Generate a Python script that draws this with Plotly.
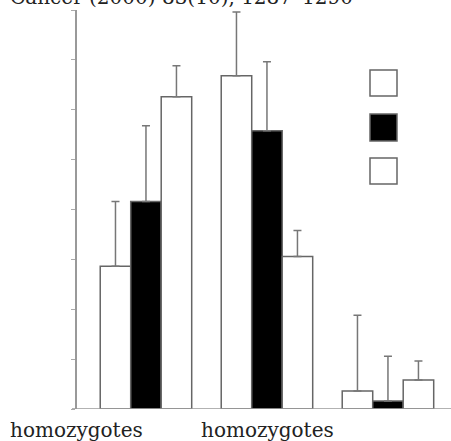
import plotly.graph_objects as go

groups = ["G1", "G2", "G3"]
series_names = ["Series A", "Series B", "Series C"]
series_fill = ["white", "black", "white"]
values = [
    [28.6, 66.8, 3.6],
    [41.6, 55.8, 1.6],
    [62.6, 30.6, 5.8],
]
errors = [
    [13.0, 12.8, 15.2],
    [15.2, 13.8, 9.0],
    [6.2, 5.2, 3.8],
]
x_labels = ["homozygotes", "homozygotes"]
x_label_px = [76, 267]
title_text = "Cancer (2000) 83(10), 1287\u20131290"
y_ticks = [0, 10, 20, 30, 40, 50, 60, 70, 80]

W, H = 451, 441
ml, mr, mt, mb = 77, 0, 10, 32
pw, ph = W - ml - mr, H - mt - mb

fig = go.Figure()
for name, fill, vals, errs in zip(series_names, series_fill, values, errors):
    fig.add_trace(go.Bar(
        x=groups, y=vals, name=name,
        marker=dict(color=fill, line=dict(color="#666666", width=1.5)),
        error_y=dict(type="data", array=errs, arrayminus=[0] * len(errs),
                     symmetric=False, color="#777777", thickness=1.5, width=4),
        showlegend=False,
    ))

def px_x(p):
    return (p - ml) / pw

def px_y(p):
    return 1 - (p - mt) / ph

shapes = [dict(type="line", xref="paper", yref="y", x0=px_x(72), x1=1, y0=0, y1=0,
               line=dict(color="#999999", width=1.5))]
legend_boxes = [(70, 96), (114, 141), (158, 184)]
for (t, b), fill in zip(legend_boxes, series_fill):
    shapes.append(dict(type="rect", xref="paper", yref="paper",
                       x0=px_x(370), x1=px_x(397), y0=px_y(b), y1=px_y(t),
                       fillcolor=fill, line=dict(color="#666666", width=1.5)))

annotations = []
for lab, xp in zip(x_labels, x_label_px):
    annotations.append(dict(text=lab, x=px_x(xp), xref="paper", y=px_y(430), yref="paper",
                            showarrow=False, xanchor="center", yanchor="middle",
                            font=dict(family="DejaVu Serif", size=20, color="#222222")))
annotations.append(dict(text=title_text, x=px_x(8), xref="paper", y=px_y(-3), yref="paper",
                        showarrow=False, xanchor="left", yanchor="middle",
                        font=dict(family="DejaVu Serif", size=20, color="#222222")))

fig.update_layout(
    width=W, height=H,
    margin=dict(l=ml, r=mr, t=mt, b=mb, pad=0),
    paper_bgcolor="white", plot_bgcolor="white",
    barmode="group", bargap=0.244, bargroupgap=0,
    shapes=shapes, annotations=annotations,
    xaxis=dict(range=[-0.570, 2.521], showticklabels=False, showgrid=False,
               zeroline=False, showline=False, ticks=""),
    yaxis=dict(range=[0, 80], tickvals=y_ticks, showticklabels=False, showgrid=False,
               zeroline=False, showline=True, linecolor="#999999", linewidth=1.5,
               ticks="outside", ticklen=4, tickcolor="#aaaaaa", tickwidth=1),
)

fig.write_html("out.html", config={"displayModeBar": False},
               post_script="document.body.style.margin='0';")
